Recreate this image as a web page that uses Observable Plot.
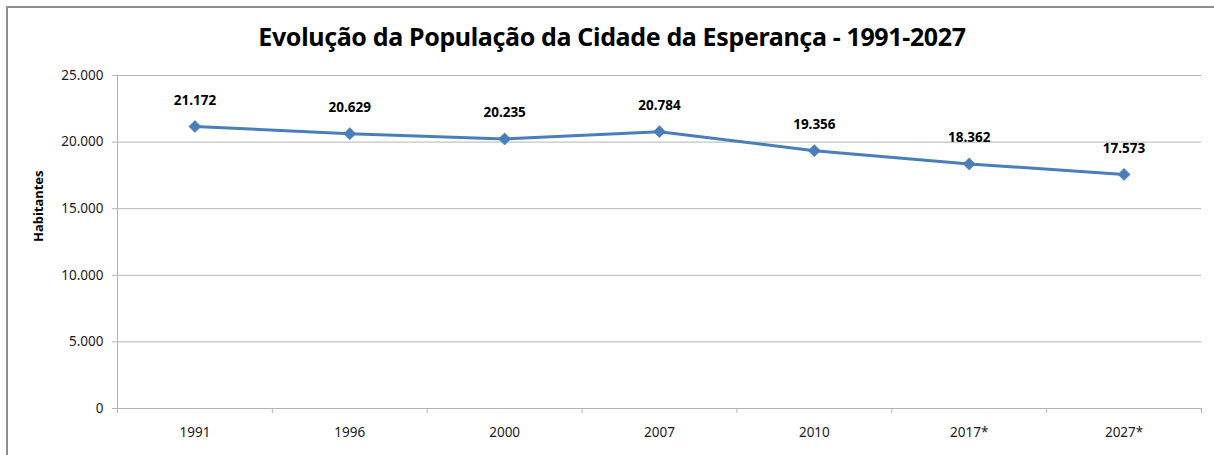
<!DOCTYPE html>
<html>
<head>
<meta charset="utf-8">
<script src="https://cdn.jsdelivr.net/npm/d3@7"></script>
<script src="https://cdn.jsdelivr.net/npm/@observablehq/plot@0.6"></script>
<style>
  html, body { margin: 0; padding: 0; background: #fff; overflow: hidden; width: 1214px; height: 455px; }
  #frame { position: absolute; left: 6px; top: 6px; width: 1300px; height: 600px;
           border-top: 2px solid #8f8f8f; border-left: 2px solid #8f8f8f; }
  #title { position: absolute; left: 0; top: 19px; width: 1224px; text-align: center;
           font-family: "Noto Sans", sans-serif; font-weight: bold; font-size: 25px;
           color: #000; letter-spacing: -0.35px; white-space: nowrap; }
  #chart { position: absolute; left: 0; top: 0; }
</style>
</head>
<body>
<div id="frame"></div>
<div id="chart"></div>
<div id="title">Evolução da População da Cidade da Esperança - 1991-2027</div>
<script>
const categories = ["1991", "1996", "2000", "2007", "2010", "2017*", "2027*"];
const values = [21172, 20629, 20235, 20784, 19356, 18362, 17573];
const yTicks = [0, 5000, 10000, 15000, 20000, 25000];
const yLabel = "Habitantes";

const ptBR = d3.formatLocale({decimal: ",", thousands: ".", grouping: [3], currency: ["R$", ""]});
const fmt = ptBR.format(",d");

const data = categories.map((c, i) => ({cat: c, pos: i + 0.5, value: values[i]}));
const edges = d3.range(categories.length + 1);
const centers = categories.map((c, i) => i + 0.5);

const blue = "#4a7ebb";
const grid = "#b4b4b4";

const chart = Plot.plot({
  width: 1214,
  height: 455,
  marginTop: 75,
  marginBottom: 47,
  marginLeft: 117,
  marginRight: 13,
  style: {fontFamily: "'Noto Sans', sans-serif", background: "transparent"},
  x: {type: "linear", domain: [0, categories.length]},
  y: {domain: [0, 25000]},
  marks: [
    Plot.ruleY(yTicks, {stroke: grid, strokeWidth: 1}),
    Plot.ruleX([0], {stroke: grid, strokeWidth: 1}),
    Plot.axisY({ticks: yTicks, tickSize: 5, tickPadding: 9, tickFormat: fmt,
                stroke: grid, fill: "#1a1a1a", fontSize: 13.5, label: null}),
    Plot.axisX({ticks: edges, tickSize: 5, tickFormat: () => "", stroke: grid, label: null}),
    Plot.axisX({ticks: centers, tickSize: 0, tickPadding: 19,
                tickFormat: d => categories[Math.floor(d)], fill: "#1a1a1a", fontSize: 13.5, label: null}),
    Plot.text([yLabel], {frameAnchor: "left", dx: -79, rotate: -90, fontWeight: "bold",
                         fontSize: 13, fill: "#000"}),
    Plot.line(data, {x: "pos", y: "value", stroke: blue, strokeWidth: 3}),
    Plot.dot(data, {x: "pos", y: "value", symbol: "diamond2", r: 5.5, fill: blue, stroke: blue, strokeWidth: 0.5}),
    Plot.text(data, {x: "pos", y: "value", text: d => fmt(d.value), dy: -26,
                     fontWeight: "bold", fontSize: 13.5, fill: "#000"})
  ]
});
document.getElementById("chart").appendChild(chart);
</script>
</body>
</html>
